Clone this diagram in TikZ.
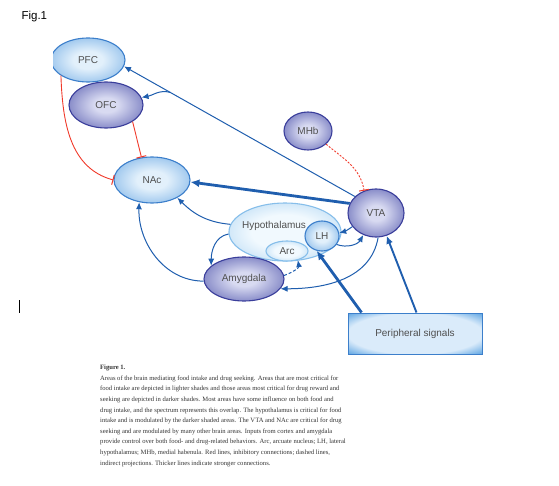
\documentclass[tikz,border=0pt]{standalone}
\usepackage{fontspec}
\setmainfont{Liberation Serif}
\setsansfont{Liberation Sans}
\usetikzlibrary{shapes.geometric,arrows.meta}
\definecolor{lightin}{HTML}{E2F0FB}
\definecolor{lightout}{HTML}{78B0E6}
\definecolor{lightline}{HTML}{3C7FCB}
\definecolor{darkin}{HTML}{D8DAF1}
\definecolor{darkout}{HTML}{5C61B2}
\definecolor{darkline}{HTML}{3A3E9B}
\definecolor{hypoin}{HTML}{F1F9FE}
\definecolor{hypoout}{HTML}{B3D7F3}
\definecolor{hypoline}{HTML}{86BEEA}
\definecolor{boxin}{HTML}{DAEBFA}
\definecolor{boxout}{HTML}{62A7E3}
\definecolor{linkblue}{HTML}{1F5EAE}
\definecolor{inhibred}{HTML}{F0392A}
\definecolor{labelgray}{HTML}{4F4F4F}
\pgfdeclareradialshading{lightglow}{\pgfpoint{0bp}{0bp}}{color(0bp)=(lightin); color(10bp)=(lightin); color(35bp)=(lightout); color(50bp)=(lightout)}
\pgfdeclareradialshading{darkglow}{\pgfpoint{0bp}{0bp}}{color(0bp)=(darkin); color(8bp)=(darkin); color(35bp)=(darkout); color(50bp)=(darkout)}
\pgfdeclareradialshading{hypoglow}{\pgfpoint{0bp}{0bp}}{color(0bp)=(hypoin); color(15bp)=(hypoin); color(35bp)=(hypoout); color(50bp)=(hypoout)}
\pgfdeclareradialshading{boxglow}{\pgfpoint{0bp}{0bp}}{color(0bp)=(boxin); color(25bp)=(boxin); color(35bp)=(boxout); color(50bp)=(boxout)}
\begin{document}
\begin{tikzpicture}[x=1pt,y=-1pt,
      area/.style={ellipse,inner sep=0pt,line width=1.1pt,
        font=\sffamily\fontsize{10}{12}\selectfont,text=labelgray},
      lightarea/.style={area,draw=lightline,shading=lightglow},
      darkarea/.style={area,draw=darkline,shading=darkglow},
      hypoarea/.style={area,draw=hypoline,shading=hypoglow},
      link/.style={draw=linkblue,line width=1pt,-{Latex[length=7pt,width=6pt]}},
      inhib/.style={draw=inhibred,line width=0.9pt,-{Bar[width=10pt,line width=1pt]}}]
      \useasboundingbox (0,0) rectangle (559,486);
      \node[anchor=west,font=\sffamily\fontsize{11.5}{13}\selectfont] (fig) at (18,17) {Fig.1};
      \draw[line width=0.8pt] (19,300)--(19,313);
      % brain areas
      \begin{scope}
      \clip (53,0) rectangle (200,120);
      \node[lightarea,minimum width=74pt,minimum height=44pt] (PFC) at (88,60) {PFC};
      \end{scope}
      \node[darkarea,minimum width=74pt,minimum height=46pt] (OFC) at (106,105) {OFC};
      \node[lightarea,minimum width=76pt,minimum height=46pt] (NAc) at (152,180) {NAc};
      \node[darkarea,minimum width=48pt,minimum height=38pt] (MHb) at (308,131) {MHb};
      \node[darkarea,minimum width=56pt,minimum height=48pt] (VTA) at (376,213) {VTA};
      \node[hypoarea,minimum width=112pt,minimum height=58pt,
        label={[area,xshift=-11pt,yshift=6pt]center:Hypothalamus}] (Hypo) at (285,232) {};
      \node[hypoarea,minimum width=42pt,minimum height=20pt] (Arc) at (287,251) {Arc};
      \node[lightarea,minimum width=34pt,minimum height=30pt] (LH) at (322,236) {LH};
      \node[darkarea,minimum width=80pt,minimum height=44pt] (Amyg) at (244,279) {Amygdala};
      \node[draw=lightline,line width=1pt,shading=boxglow,
        minimum width=134pt,minimum height=41pt,
        font=\sffamily\fontsize{10}{12}\selectfont,text=labelgray] (Periph) at (415,333.5) {Peripheral signals};
      % connections
      \draw[link] (VTA.142)--(PFC.-10) coordinate[pos=0.8] (fork);
      \draw[link] (fork) to[out=165,in=10] (OFC.12);
      \draw[link,line width=2.8pt,-{Latex[length=9pt,width=8pt]}] (VTA.160)--(NAc.-3);
      \draw[inhib,dash pattern=on 2pt off 1.5pt] (MHb.-36) to[out=-40,in=100] (VTA.118);
      \draw[inhib] (PFC.-150) to[out=-88,in=165] (NAc.180);
      \draw[inhib] (OFC.-32)--(NAc.115);
      \draw[link] (Hypo.172) to[out=175,in=-45] (NAc.-35);
      \draw[link] (Hypo.182) to[out=190,in=90] (Amyg.158);
      \draw[link] (Amyg.183) to[out=180,in=-92] (NAc.-120);
      \draw[link,dash pattern=on 3pt off 2pt] (Amyg.5) to[out=20,in=-80] (Arc.-40);
      \draw[link] (VTA.-85) to[out=-100,in=0] (Amyg.-15);
      \draw[link] (VTA.-150) to[bend left=10] (LH.10);
      \draw[link] (LH.-30) to[out=-20,in=-120] (VTA.-120);
      \draw[link,line width=2.8pt,-{Latex[length=9pt,width=8pt]}] ([xshift=14pt]Periph.north west)--(LH.-110);
      \draw[link,line width=1.9pt,-{Latex[length=8pt,width=7pt]}] ([xshift=69pt]Periph.north west)--(VTA.-65);
      % caption
      \node[anchor=north west,inner sep=0pt,align=left,text=black!80,
        font=\fontsize{6.6}{10.6}\selectfont] (caption) at (100,365)
        {\textbf{Figure 1.}\\
        Areas of the brain mediating food intake and drug seeking. Areas that are most critical for\\
        food intake are depicted in lighter shades and those areas most critical for drug reward and\\
        seeking are depicted in darker shades. Most areas have some influence on both food and\\
        drug intake, and the spectrum represents this overlap. The hypothalamus is critical for food\\
        intake and is modulated by the darker shaded areas. The VTA and NAc are critical for drug\\
        seeking and are modulated by many other brain areas. Inputs from cortex and amygdala\\
        provide control over both food- and drug-related behaviors. Arc, arcuate nucleus; LH, lateral\\
        hypothalamus; MHb, medial habenula. Red lines, inhibitory connections; dashed lines,\\
        indirect projections. Thicker lines indicate stronger connections.};
     \end{tikzpicture}
\end{document}
